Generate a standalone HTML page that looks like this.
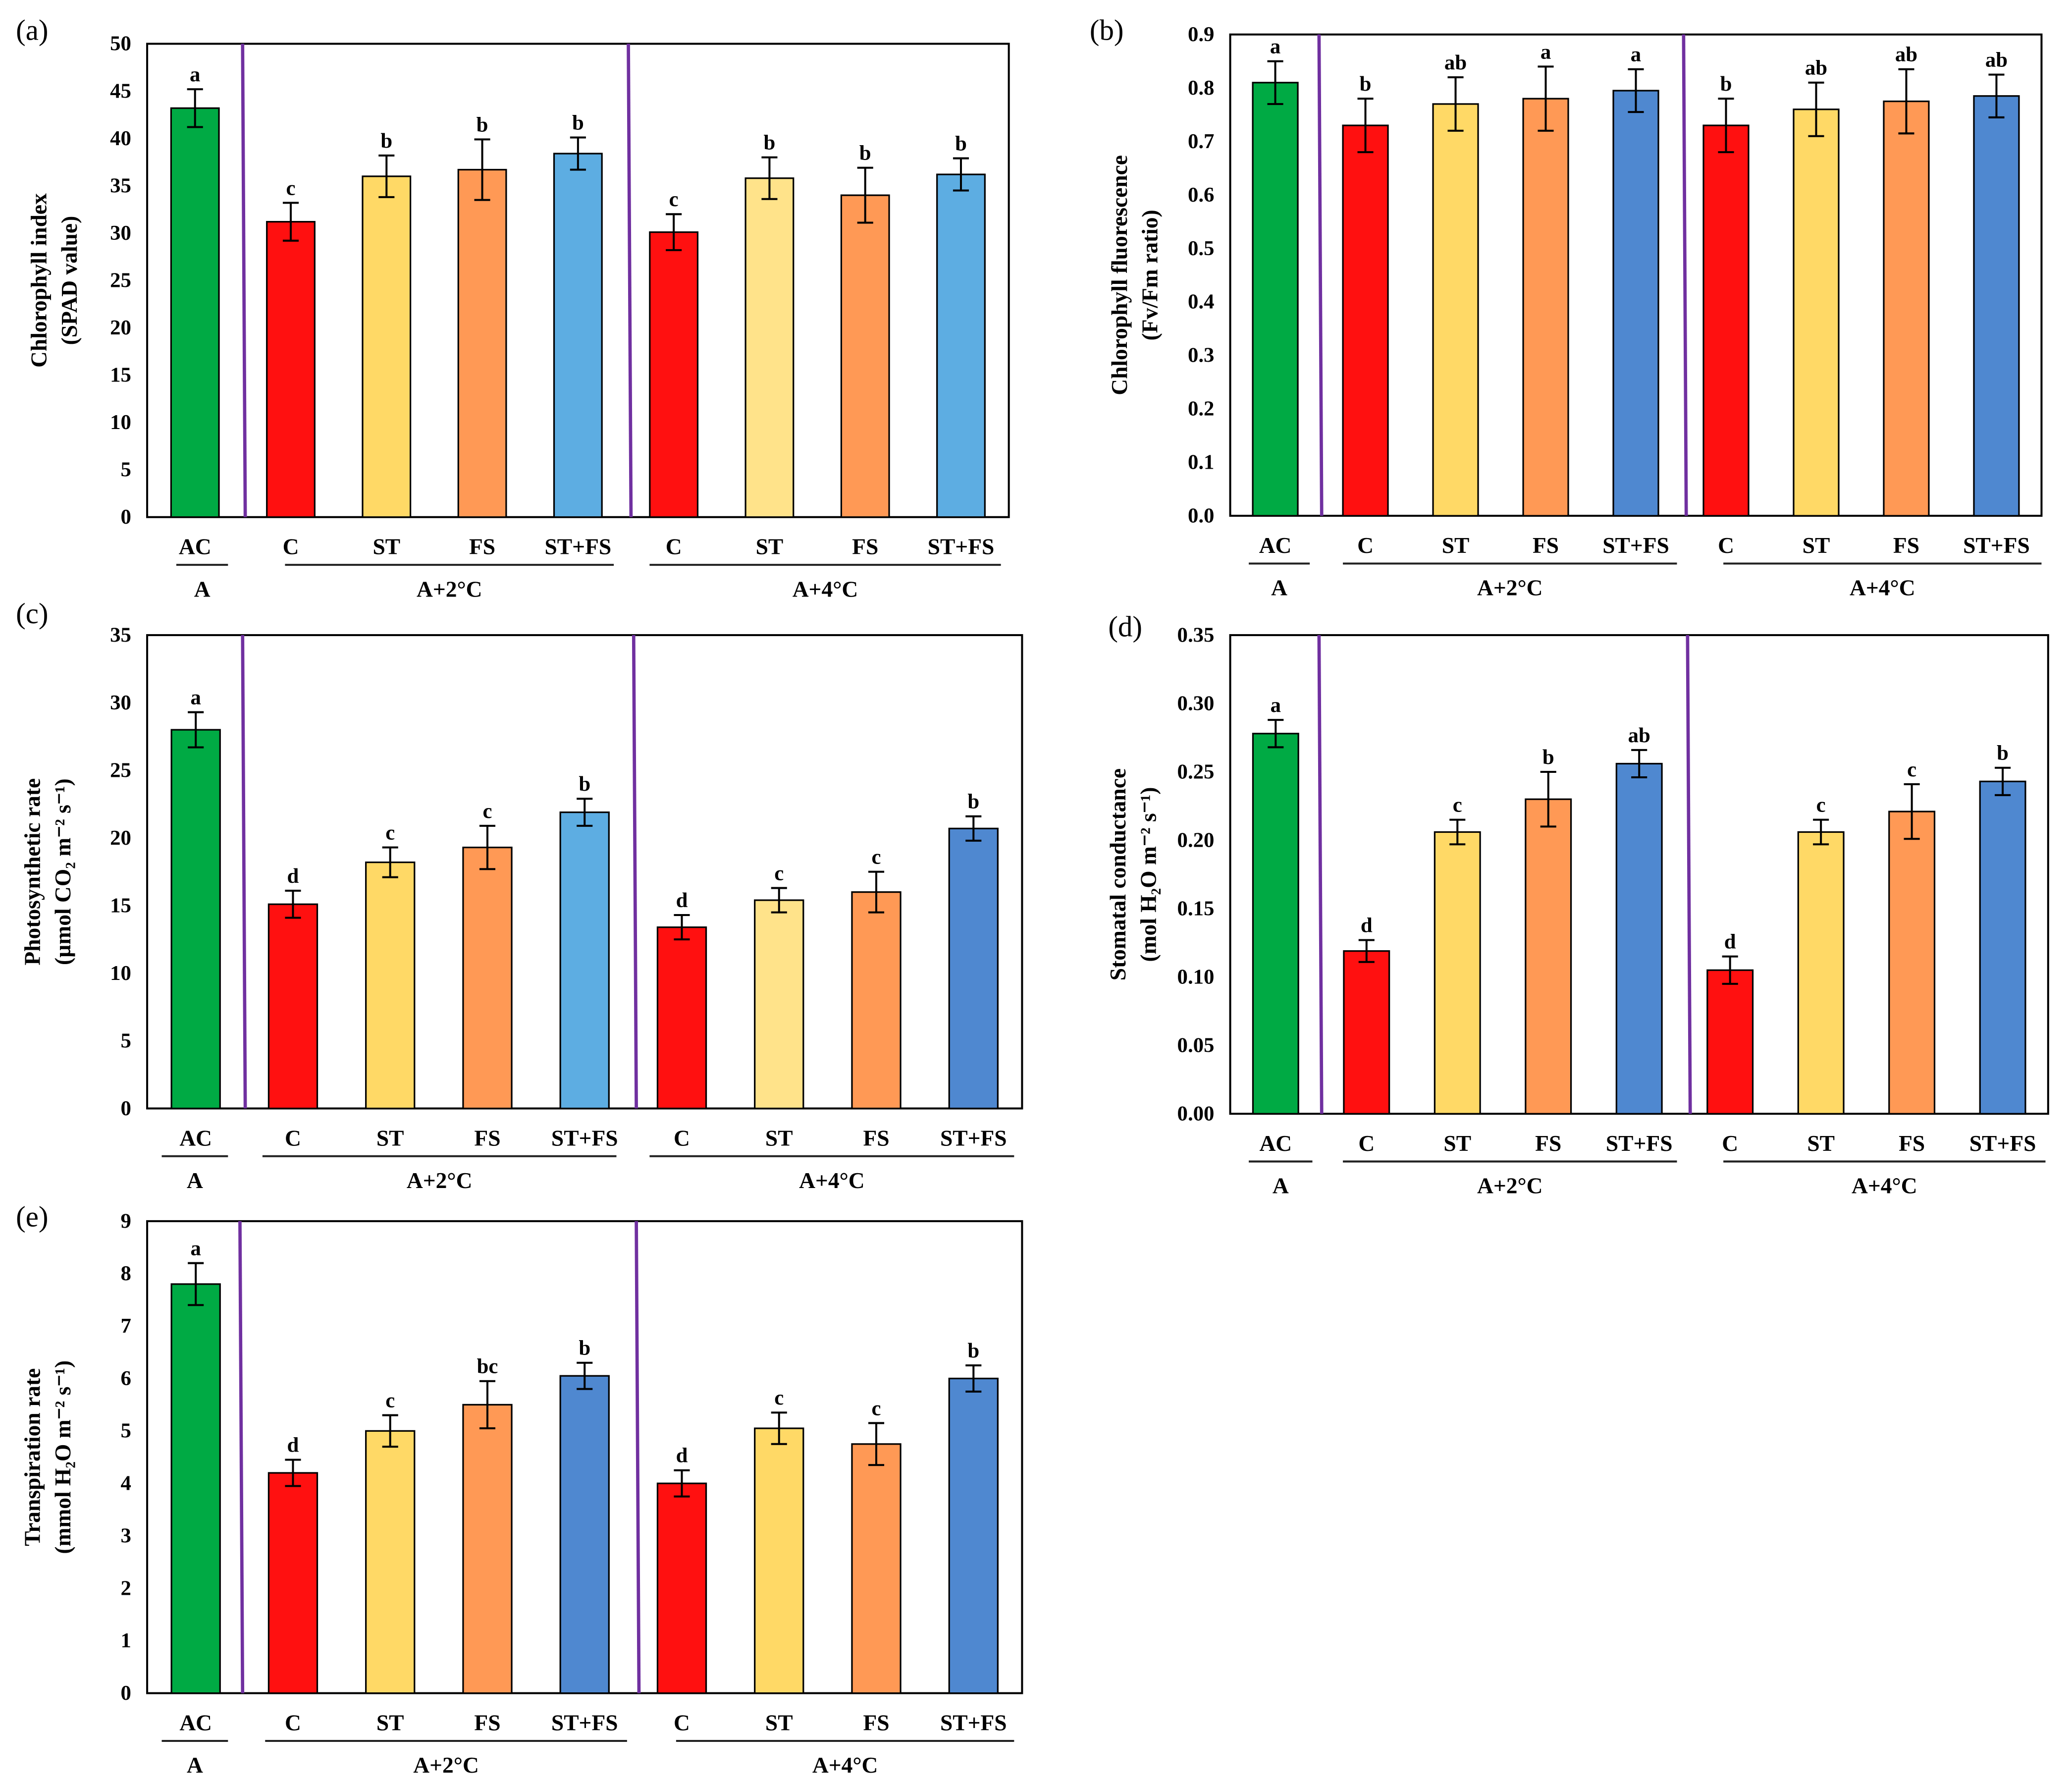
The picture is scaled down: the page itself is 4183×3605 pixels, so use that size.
<!DOCTYPE html>
<html><head><meta charset="utf-8"><style>
html,body{margin:0;padding:0;background:#fff;}
svg{display:block;}
text{font-family:"Liberation Serif",serif;fill:#000;}
</style></head><body>
<svg id="fig" width="4183" height="3605" viewBox="0 0 1563 1347" xmlns="http://www.w3.org/2000/svg"></svg>
<script>
const categories = ["AC","C","ST","FS","ST+FS","C","ST","FS","ST+FS"];
const valuesA = [43.2,31.2,36.0,36.7,38.4,30.1,35.8,34.0,36.2];
const errorsA = [2.0,2.0,2.2,3.2,1.7,1.9,2.2,2.9,1.7];
const lettersA = ["a","c","b","b","b","c","b","b","b"];
const ticksA = [0,5,10,15,20,25,30,35,40,45,50];
const valuesB = [0.81,0.73,0.77,0.78,0.795,0.73,0.76,0.775,0.785];
const errorsB = [0.04,0.05,0.05,0.06,0.04,0.05,0.05,0.06,0.04];
const lettersB = ["a","b","ab","a","a","b","ab","ab","ab"];
const ticksB = ["0.0","0.1","0.2","0.3","0.4","0.5","0.6","0.7","0.8","0.9"];
const valuesC = [28.0,15.1,18.2,19.3,21.9,13.4,15.4,16.0,20.7];
const errorsC = [1.3,1.0,1.1,1.6,1.0,0.9,0.9,1.5,0.9];
const lettersC = ["a","d","c","c","b","d","c","c","b"];
const ticksC = [0,5,10,15,20,25,30,35];
const valuesD = [0.278,0.119,0.206,0.230,0.256,0.105,0.206,0.221,0.243];
const errorsD = [0.010,0.008,0.009,0.020,0.010,0.010,0.009,0.020,0.010];
const lettersD = ["a","d","c","b","ab","d","c","c","b"];
const ticksD = ["0.00","0.05","0.10","0.15","0.20","0.25","0.30","0.35"];
const valuesE = [7.8,4.2,5.0,5.5,6.05,4.0,5.05,4.75,6.0];
const errorsE = [0.4,0.25,0.3,0.45,0.25,0.25,0.3,0.4,0.25];
const lettersE = ["a","d","c","bc","b","d","c","c","b"];
const ticksE = [0,1,2,3,4,5,6,7,8,9];

const NS="http://www.w3.org/2000/svg";
const svg=document.getElementById('fig');
function mk(tag,attrs,parent){const e=document.createElementNS(NS,tag);for(const k in attrs)e.setAttribute(k,attrs[k]);(parent||svg).appendChild(e);return e;}

const G="#00AA44",R="#FF1010",Y="#FFD966",LY="#FFE38A",O="#FF9955",LB="#5DADE2",DB="#4F88D0";
const panels=[
 {id:"a",vals:valuesA,errs:errorsA,lets:lettersA,ticks:ticksA,max:50,x0:111,x1:761,y0:33,y1:390,div:[183,474],lbl:[12,30],
  colors:[G,R,Y,O,LB,R,LY,O,LB],yl:["Chlorophyll  index","(SPAD value)"],ylx:[35,58],under:[[133,172],[215,463],[490,755]]},
 {id:"b",vals:valuesB,errs:errorsB,lets:lettersB,ticks:ticksB,max:0.9,x0:928,x1:1540,y0:26,y1:389,div:[995,1270],lbl:[822,30],
  colors:[G,R,Y,O,DB,R,Y,O,DB],yl:["Chlorophyll  fluorescence","(Fv/Fm  ratio)"],ylx:[850,873],under:[[942,988],[1013,1265],[1300,1540]]},
 {id:"c",vals:valuesC,errs:errorsC,lets:lettersC,ticks:ticksC,max:35,x0:111,x1:771,y0:479,y1:836,div:[183,478],lbl:[12,470],
  colors:[G,R,Y,O,LB,R,LY,O,DB],yl:["Photosynthetic  rate","(µmol CO\u2082 m\u207B\u00B2 s\u207B\u00B9)"],ylx:[30,53],under:[[122,172],[198,465],[490,765]]},
 {id:"d",vals:valuesD,errs:errorsD,lets:lettersD,ticks:ticksD,max:0.35,x0:928,x1:1545,y0:479,y1:840,div:[995,1273],lbl:[836,480],
  colors:[G,R,Y,O,DB,R,Y,O,DB],yl:["Stomatal  conductance","(mol H\u2082O m\u207B\u00B2 s\u207B\u00B9)"],ylx:[849,872],under:[[942,990],[1013,1265],[1300,1543]]},
 {id:"e",vals:valuesE,errs:errorsE,lets:lettersE,ticks:ticksE,max:9,x0:111,x1:771,y0:921,y1:1277,div:[181,480],lbl:[12,925],
  colors:[G,R,Y,O,DB,R,Y,O,DB],yl:["Transpiration  rate","(mmol H\u2082O m\u207B\u00B2 s\u207B\u00B9)"],ylx:[30,53],under:[[122,172],[200,473],[510,765]]}
];

panels.forEach(p=>{
 const g=mk('g',{});
 
 
 const yScale=v=>p.y1-(v/p.max)*(p.y1-p.y0);
 const plotW=p.x1-p.x0;
 const step=plotW/9;
 const xCenter=i=>p.x0+step*(i+0.5);
 const bw=step*0.5;
 const pl=mk('text',{x:p.lbl[0],y:p.lbl[1],'font-size':22},g);pl.textContent='('+p.id+')';
 
 
 const fr=mk('rect',{x:p.x0,y:p.y0,width:plotW,height:p.y1-p.y0,fill:'none',stroke:'#000','stroke-width':1.5},g);
 
 
 p.ticks.forEach(t=>{
  const v=parseFloat(t);
  const tt=mk('text',{x:p.x0-12,y:yScale(v)+5,'font-size':16,'font-weight':'bold','text-anchor':'end'},g);
  tt.textContent=t;
  
  
 });
 const cy=(p.y0+p.y1)/2;
 p.yl.forEach((s,k)=>{
  const yt=mk('text',{x:p.ylx[k],y:cy,'font-size':17,'font-weight':'bold','text-anchor':'middle',transform:`rotate(-90 ${p.ylx[k]} ${cy})`},g);
  yt.textContent=s;
  
  
 });
 p.div.forEach(dx=>{
  const dl=mk('line',{x1:dx,y1:p.y0,x2:dx+2,y2:p.y1,stroke:'#7030A0','stroke-width':2.5},g);
  
  
 });
 p.vals.forEach((v,i)=>{
  const cx=xCenter(i);
  const b=mk('rect',{x:cx-bw/2,y:yScale(v),width:bw,height:p.y1-yScale(v),fill:p.colors[i],stroke:'#000','stroke-width':1.2},g);
  
  
  const e=p.errs[i],yt=yScale(v+e),yb=yScale(v-e);
  const eb=mk('path',{d:`M${cx},${yt}V${yb}M${cx-6},${yt}H${cx+6}M${cx-6},${yb}H${cx+6}`,stroke:'#000','stroke-width':1.5,fill:'none'},g);
  
  
  const lt=mk('text',{x:cx,y:yt-6,'font-size':16,'font-weight':'bold','text-anchor':'middle'},g);
  lt.textContent=p.lets[i];
  
  
  const ct=mk('text',{x:cx,y:p.y1+28,'font-size':17,'font-weight':'bold','text-anchor':'middle'},g);
  ct.textContent=categories[i];
  
  
 });
 const groups=["A","A+2°C","A+4°C"];
 p.under.forEach((u,k)=>{
  const ul=mk('line',{x1:u[0],y1:p.y1+36,x2:u[1],y2:p.y1+36,stroke:'#222','stroke-width':1.5},g);
  
  
  const gt=mk('text',{x:(u[0]+u[1])/2,y:p.y1+60,'font-size':17,'font-weight':'bold','text-anchor':'middle'},g);
  gt.textContent=groups[k];
  
  
 });
});
</script>
</body></html>
